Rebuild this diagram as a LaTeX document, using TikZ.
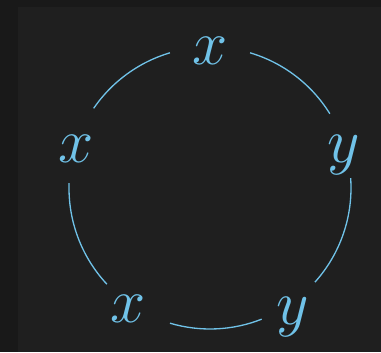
\RequirePackage{fix-cm}
\documentclass[tikz,border=0pt]{standalone}
\usepackage{xcolor}
\definecolor{frame}{HTML}{191919}
\definecolor{panel}{HTML}{1F1F1F}
\definecolor{sky}{HTML}{70C2E8}
\tikzset{
  vert/.style={inner sep=0pt,text height=0.72cm,text depth=0pt,
    text=sky,font=\fontsize{36}{40}\selectfont},
  rim/.style={draw=sky,line width=0.75pt}}

\begin{document}
\begin{tikzpicture}
\fill[frame] (-4.2,-3.28) rectangle (3.42,3.76);
\fill[panel] (-3.84,-3.28) rectangle (3.42,3.62);
\useasboundingbox (-4.2,-3.28) rectangle (3.42,3.76);

\coordinate (hub) at (0,0);
\node[vert] (top) at (90:2.82) {$x$};
\node[vert] (rt) at (18:2.82) {$y$};
\node[vert] (brt) at (-55:2.9) {$y$};
\node[vert] (blt) at (235:2.84) {$x$};
\node[vert] (lft) at (162:2.82) {$x$};

% the ring, broken at each letter
\draw[rim] ([shift={(31.8:2.82)}]hub) arc[start angle=31.8,end angle=73.5,radius=2.82];
\draw[rim] ([shift={(106.5:2.82)}]hub) arc[start angle=106.5,end angle=145.6,radius=2.82];
\draw[rim] ([shift={(178:2.82)}]hub) arc[start angle=178,end angle=223,radius=2.82];
\draw[rim] ([shift={(253.5:2.82)}]hub) arc[start angle=253.5,end angle=291.5,radius=2.82];
\draw[rim] ([shift={(-41.9:2.82)}]hub) arc[start angle=-41.9,end angle=4,radius=2.82];
\end{tikzpicture}
\end{document}
